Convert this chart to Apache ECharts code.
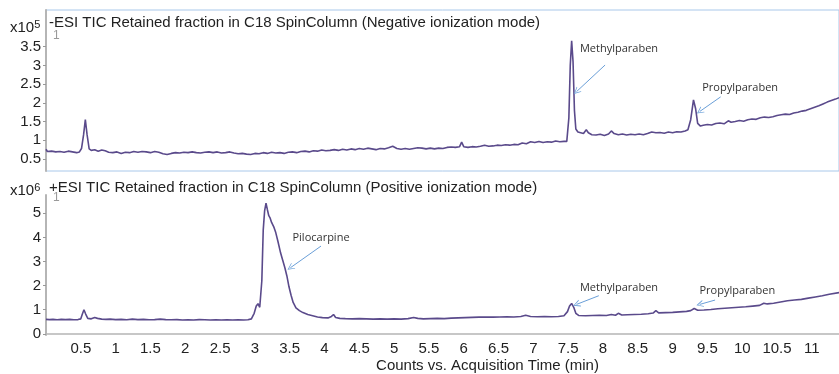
<!DOCTYPE html>
<html>
<head>
<meta charset="utf-8">
<script src="https://cdn.jsdelivr.net/npm/echarts@6/dist/echarts.min.js"></script>
<style>
html,body{margin:0;padding:0;background:#fff;}
#chart{width:839px;height:374px;}
</style>
</head>
<body>
<div id="chart"></div>
<script>
// ---- Data ----
// Negative mode TIC, counts x10^5
var negTime = [0.00,0.02,0.08,0.14,0.20,0.26,0.32,0.38,0.44,0.48,0.51,0.54,0.565,0.59,0.62,0.65,0.70,0.75,0.80,0.85,0.90,0.96,1.02,1.08,1.14,1.20,1.26,1.32,1.38,1.44,1.50,1.56,1.62,1.68,1.74,1.80,1.86,1.92,1.98,2.04,2.10,2.16,2.22,2.28,2.34,2.40,2.46,2.52,2.58,2.64,2.70,2.76,2.82,2.88,2.94,3.00,3.06,3.12,3.18,3.24,3.30,3.36,3.42,3.48,3.54,3.60,3.66,3.72,3.78,3.84,3.90,3.96,4.02,4.08,4.14,4.20,4.26,4.32,4.38,4.44,4.50,4.56,4.62,4.68,4.74,4.80,4.86,4.92,4.98,5.04,5.10,5.16,5.22,5.28,5.34,5.40,5.46,5.52,5.58,5.64,5.70,5.76,5.82,5.88,5.94,5.97,6.00,6.06,6.12,6.18,6.24,6.30,6.36,6.42,6.48,6.54,6.60,6.66,6.72,6.78,6.84,6.90,6.96,7.02,7.08,7.14,7.20,7.26,7.32,7.38,7.44,7.48,7.51,7.53,7.55,7.57,7.59,7.61,7.64,7.68,7.72,7.76,7.79,7.84,7.90,7.96,8.02,8.08,8.12,8.16,8.22,8.28,8.34,8.40,8.46,8.52,8.58,8.64,8.70,8.76,8.82,8.88,8.94,9.00,9.06,9.12,9.18,9.22,9.26,9.30,9.33,9.36,9.40,9.44,9.50,9.56,9.62,9.68,9.74,9.80,9.84,9.90,9.96,10.02,10.08,10.14,10.20,10.26,10.32,10.38,10.44,10.50,10.56,10.62,10.68,10.74,10.80,10.86,10.92,10.98,11.04,11.10,11.16,11.22,11.28,11.34,11.39];
var negSignal = [0.76,0.70,0.71,0.69,0.70,0.68,0.71,0.69,0.67,0.69,0.78,1.15,1.55,1.15,0.77,0.73,0.75,0.71,0.74,0.72,0.68,0.67,0.69,0.65,0.68,0.67,0.70,0.68,0.70,0.69,0.67,0.70,0.68,0.64,0.62,0.65,0.67,0.66,0.68,0.67,0.69,0.67,0.66,0.68,0.69,0.67,0.69,0.66,0.67,0.69,0.66,0.64,0.65,0.63,0.62,0.65,0.64,0.67,0.65,0.68,0.66,0.67,0.65,0.68,0.69,0.67,0.70,0.71,0.69,0.72,0.71,0.74,0.72,0.73,0.75,0.73,0.76,0.74,0.77,0.75,0.78,0.76,0.79,0.77,0.75,0.78,0.77,0.80,0.84,0.78,0.76,0.78,0.76,0.78,0.80,0.79,0.77,0.79,0.77,0.79,0.78,0.81,0.82,0.81,0.83,0.95,0.83,0.81,0.83,0.82,0.84,0.87,0.84,0.85,0.87,0.86,0.88,0.87,0.89,0.88,0.93,0.91,0.96,0.94,0.97,0.94,0.96,0.95,0.98,0.96,0.97,0.97,1.60,3.00,3.66,3.10,1.80,1.30,1.22,1.20,1.18,1.28,1.20,1.15,1.14,1.16,1.13,1.17,1.25,1.18,1.15,1.17,1.14,1.16,1.15,1.17,1.15,1.18,1.22,1.20,1.21,1.19,1.22,1.20,1.23,1.22,1.25,1.28,1.55,2.08,1.85,1.45,1.38,1.40,1.42,1.41,1.45,1.46,1.44,1.52,1.48,1.50,1.53,1.51,1.55,1.57,1.56,1.60,1.62,1.61,1.63,1.66,1.68,1.70,1.69,1.73,1.75,1.78,1.80,1.84,1.88,1.92,1.97,2.02,2.06,2.10,2.14];

// Positive mode TIC, counts x10^6
var posTime = [0.00,0.05,0.10,0.16,0.22,0.28,0.34,0.40,0.46,0.50,0.52,0.545,0.57,0.60,0.65,0.70,0.74,0.80,0.86,0.92,1.00,1.08,1.16,1.24,1.32,1.40,1.48,1.56,1.64,1.72,1.80,1.88,1.96,2.04,2.12,2.20,2.28,2.36,2.44,2.52,2.60,2.68,2.76,2.84,2.90,2.95,2.99,3.02,3.045,3.07,3.085,3.10,3.12,3.14,3.16,3.18,3.20,3.22,3.24,3.27,3.30,3.33,3.37,3.40,3.43,3.46,3.49,3.52,3.55,3.59,3.64,3.69,3.76,3.83,3.90,3.97,4.05,4.10,4.13,4.16,4.22,4.30,4.40,4.50,4.60,4.70,4.80,4.90,5.00,5.10,5.20,5.28,5.34,5.42,5.52,5.62,5.72,5.82,5.92,6.02,6.12,6.22,6.32,6.42,6.52,6.62,6.72,6.82,6.89,6.96,7.06,7.16,7.26,7.36,7.44,7.49,7.52,7.55,7.58,7.61,7.65,7.75,7.85,7.95,8.05,8.12,8.18,8.22,8.27,8.35,8.45,8.55,8.65,8.72,8.76,8.80,8.90,9.00,9.10,9.20,9.26,9.31,9.36,9.45,9.55,9.65,9.75,9.85,9.95,10.05,10.15,10.25,10.31,10.36,10.45,10.55,10.65,10.75,10.85,10.95,11.05,11.15,11.25,11.39];
var posSignal = [0.60,0.59,0.60,0.58,0.60,0.59,0.60,0.58,0.59,0.62,0.80,1.00,0.82,0.64,0.62,0.68,0.64,0.61,0.60,0.61,0.59,0.60,0.58,0.61,0.59,0.60,0.58,0.59,0.61,0.59,0.58,0.59,0.57,0.58,0.57,0.59,0.58,0.57,0.58,0.57,0.58,0.57,0.58,0.57,0.58,0.62,0.85,1.15,1.25,1.10,1.05,2.20,4.30,5.10,5.42,5.15,4.90,4.80,4.62,4.45,4.20,3.85,3.35,3.05,2.75,2.40,1.95,1.60,1.30,1.08,0.96,0.88,0.80,0.75,0.70,0.67,0.66,0.72,0.80,0.68,0.64,0.63,0.62,0.63,0.62,0.61,0.62,0.61,0.62,0.61,0.63,0.68,0.64,0.62,0.63,0.64,0.63,0.65,0.66,0.67,0.68,0.69,0.70,0.69,0.70,0.71,0.70,0.72,0.77,0.72,0.71,0.72,0.71,0.72,0.75,0.92,1.15,1.26,1.10,0.85,0.76,0.75,0.76,0.77,0.76,0.80,0.77,0.85,0.78,0.79,0.80,0.81,0.83,0.86,0.96,0.87,0.88,0.89,0.91,0.93,0.96,1.05,0.98,0.99,1.01,1.04,1.06,1.08,1.10,1.12,1.15,1.18,1.27,1.24,1.27,1.32,1.37,1.40,1.43,1.48,1.53,1.58,1.64,1.71];

// Tick labels
var timeTicks = [0.5,1,1.5,2,2.5,3,3.5,4,4.5,5,5.5,6,6.5,7,7.5,8,8.5,9,9.5,10,10.5,11];
var negTicks = [0.5,1,1.5,2,2.5,3,3.5];
var posTicks = [0,1,2,3,4,5];

// Texts
var negTitle = '-ESI TIC Retained fraction in C18 SpinColumn (Negative ionization mode)';
var posTitle = '+ESI TIC Retained fraction in C18 SpinColumn (Positive ionization mode)';
var xName = 'Counts vs. Acquisition Time (min)';
var negPeaks = ['Methylparaben', 'Propylparaben'];
var posPeaks = ['Pilocarpine', 'Methylparaben', 'Propylparaben'];

function zip(a, b) { return a.map(function (v, i) { return [v, b[i]]; }); }

var FONT = '"Liberation Sans", Arial, sans-serif';
var ANN_FONT = '"Open Sans", "Noto Sans", sans-serif';
var LINE_COLOR = '#5a4a8b';
var ARROW_COLOR = '#6a9fd8';
var AXIS_GRAY = '#b5b5b5';
var chevron = 'path://M5,0 L10,10 L8.8,10 L5,2.4 L1.2,10 L0,10 Z';

function arrows(list) {
  return {
    silent: true,
    symbol: ['none', chevron],
    symbolSize: [7, 7],
    lineStyle: { color: ARROW_COLOR, width: 1, type: 'solid' },
    label: { show: false },
    animation: false,
    data: list.map(function (p) { return [{ coord: p[0] }, { coord: p[1] }]; })
  };
}
function labels(names, coords) {
  return {
    silent: true,
    symbol: 'circle',
    symbolSize: 0,
    animation: false,
    label: { show: true, position: 'inside', color: '#333', fontFamily: ANN_FONT, fontSize: 11,
             formatter: function (p) { return p.name; } },
    data: names.map(function (n, i) { return { name: n, coord: coords[i] }; })
  };
}

var XMAX = 11.39;
var supRich = { s: { fontFamily: FONT, fontSize: 11, fontWeight: 'normal', color: '#222', verticalAlign: 'top', padding: [0, 0, 6, 0] } };

var option = {
  animation: false,
  backgroundColor: '#fff',
  title: [
    { text: negTitle, left: 44, top: 10, textStyle: { fontFamily: FONT, fontSize: 15, fontWeight: 'normal', color: '#222' } },
    { text: posTitle, left: 44, top: 175, textStyle: { fontFamily: FONT, fontSize: 15, fontWeight: 'normal', color: '#222' } },
    { text: 'x10{s|5}', left: 5, top: 14, textStyle: { fontFamily: FONT, fontSize: 15, fontWeight: 'normal', color: '#222', rich: supRich } },
    { text: 'x10{s|6}', left: 5, top: 177, textStyle: { fontFamily: FONT, fontSize: 15, fontWeight: 'normal', color: '#222', rich: supRich } },
    { text: '1', left: 48, top: 25, textStyle: { fontFamily: FONT, fontSize: 12, fontWeight: 'normal', color: '#9a9a9a' } },
    { text: '1', left: 48, top: 187, textStyle: { fontFamily: FONT, fontSize: 12, fontWeight: 'normal', color: '#9a9a9a' } }
  ],
  grid: [
    { left: 46, right: -2, top: 10, height: 161, show: true, borderColor: '#a9c8ea', borderWidth: 1, backgroundColor: 'transparent' },
    { left: 46, right: -2, top: 195, height: 140 }
  ],
  xAxis: [
    { gridIndex: 0, type: 'value', min: 0, max: XMAX, show: false },
    { gridIndex: 1, type: 'value', min: 0, max: XMAX,
      name: xName, nameLocation: 'middle', nameGap: 23,
      nameTextStyle: { fontFamily: FONT, fontSize: 15, color: '#222', padding: [0, 0, 0, 90] },
      axisLine: { show: true, lineStyle: { color: AXIS_GRAY, width: 1.5 } },
      axisTick: { show: false },
      splitLine: { show: false },
      axisLabel: { customValues: timeTicks, fontFamily: FONT, fontSize: 15, color: '#222', margin: 6 }
    }
  ],
  yAxis: [
    { gridIndex: 0, type: 'value', min: 0.18, max: 4.48,
      axisLine: { show: true, lineStyle: { color: AXIS_GRAY, width: 2 } },
      axisTick: { show: true, customValues: negTicks, length: 3, lineStyle: { color: '#999' } },
      splitLine: { show: false },
      axisLabel: { customValues: negTicks, fontFamily: FONT, fontSize: 15, color: '#222', margin: 5 }
    },
    { gridIndex: 1, type: 'value', min: -0.05, max: 5.76,
      axisLine: { show: true, lineStyle: { color: AXIS_GRAY, width: 2 } },
      axisTick: { show: true, customValues: posTicks, length: 3, lineStyle: { color: '#999' } },
      splitLine: { show: false },
      axisLabel: { customValues: posTicks, fontFamily: FONT, fontSize: 15, color: '#222', margin: 5 }
    }
  ],
  series: [
    { type: 'line', xAxisIndex: 0, yAxisIndex: 0, data: zip(negTime, negSignal), showSymbol: false,
      lineStyle: { color: LINE_COLOR, width: 1.6 }, itemStyle: { color: LINE_COLOR },
      markLine: arrows([[[8.03, 3.01], [7.62, 2.30]], [[9.69, 2.16], [9.39, 1.77]]]),
      markPoint: labels(negPeaks, [[8.23, 3.44], [9.97, 2.40]])
    },
    { type: 'line', xAxisIndex: 1, yAxisIndex: 1, data: zip(posTime, posSignal), showSymbol: false,
      lineStyle: { color: LINE_COLOR, width: 1.6 }, itemStyle: { color: LINE_COLOR },
      markLine: arrows([[[3.95, 3.64], [3.51, 2.74]], [[7.94, 1.58], [7.62, 1.22]], [[9.61, 1.40], [9.39, 1.22]]]),
      markPoint: labels(posPeaks, [[3.95, 3.97], [8.23, 1.89], [9.93, 1.79]])
    }
  ]
};

var chart = echarts.init(document.getElementById('chart'), null, { renderer: 'canvas' });
chart.setOption(option);
</script>
</body>
</html>
